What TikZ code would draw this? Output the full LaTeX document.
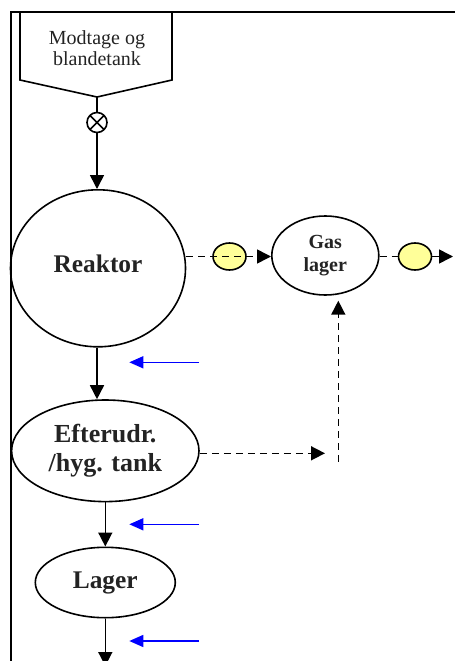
\documentclass[tikz,border=0pt]{standalone}
\usepackage{fontspec}
\setmainfont{Liberation Serif}
\usetikzlibrary{arrows.meta,shapes.geometric,calc}
\definecolor{txtgray}{RGB}{35,35,35}
\definecolor{lightyel}{RGB}{255,255,153}
\begin{document}
\begin{tikzpicture}[x=1pt,y=-1pt,
  arr/.style={line width=1.6pt,-{Triangle[length=14pt,width=14pt]}},
  dasharr/.style={line width=1.6pt,dash pattern=on 7pt off 5pt,-{Triangle[length=14pt,width=14pt]}},
  bluearr/.style={line width=1.5pt,draw=blue,-{Triangle[length=14pt,width=12pt]},blue},
  tank/.style={ellipse,draw,line width=1.6pt,inner sep=0pt,text=txtgray,align=center},
  yel/.style={ellipse,draw,line width=1.6pt,fill=lightyel,inner sep=0pt,minimum width=33pt,minimum height=27pt},
  valve/.style={circle,draw,line width=1.6pt,inner sep=0pt,minimum size=20pt,
    path picture={\draw[line width=1.6pt] (path picture bounding box.north west) -- (path picture bounding box.south east)
      (path picture bounding box.north east) -- (path picture bounding box.south west);}}
]
\useasboundingbox (0,0) rectangle (455,661);
% frame
\draw[line width=2.2pt] (11,661) -- (11,12) -- (455,12);
% receiving tank
\draw[line width=1.6pt] (20,12) -- (20,80) -- (97,97) -- (172,80) -- (172,12);
\coordinate (mb) at (97,97);
\node[text=txtgray,align=center,font=\fontsize{20}{21.5}\selectfont] (mt) at (97,48) {Modtage og\\blandetank};
\node[valve] (v) at (97,122.5) {};
% main nodes
\node[tank,minimum width=175pt,minimum height=157pt,font=\bfseries\fontsize{25.4}{29}\selectfont,text depth=10pt] (R) at (98,268.3) {Reaktor};
\node[tank,minimum width=107pt,minimum height=79pt,font=\bfseries\fontsize{20}{23.3}\selectfont] (G) at (325.3,255.5) {Gas\\lager};
\node[tank,minimum width=187.4pt,minimum height=101.6pt,font=\bfseries\fontsize{26}{29.4}\selectfont] (E) at (105.3,450.8) {Efterudr.\\/hyg. tank};
\node[tank,minimum width=140pt,minimum height=70.4pt,font=\bfseries\fontsize{25.4}{29}\selectfont] (L) at (105.3,582.5) {Lager};
\node[yel] (Y1) at (229.5,256.5) {};
\node[yel] (Y2) at (415,256.5) {};
% coordinates
\coordinate (gout) at (453,256.5);
\coordinate (c1) at (338.3,461.7);
\coordinate (c2) at (338.3,300.7);
\coordinate (c3) at (325,453.3);
\coordinate (c4) at (105.3,666);
\coordinate (b1s) at (199,362.3);
\coordinate (b1e) at (129.3,362.3);
\coordinate (b2s) at (199,524.3);
\coordinate (b2e) at (129.3,524.3);
\coordinate (b3s) at (199,641);
\coordinate (b3e) at (129.3,641);
% connectors
\draw[line width=1.6pt] (mb) -- (v.north);
\draw[arr] (v.south) -- (v.south |- R.north);
\draw[dasharr] (Y1 -| R.east) -- (Y1 -| G.west);
\draw[line width=1.6pt,dash pattern=on 7pt off 5pt] (Y2 -| G.east) -- (Y2.west);
\draw[arr] (Y2.east) -- (gout);
\draw[arr] (R.south -| v.south) -- (v.south |- E.north);
\draw[dasharr] (c1) -- (c2);
\draw[dasharr] (c3 -| E.east) -- (c3);
\draw[arr] (E.south) -- (L.north);
\draw[arr] (L.south) -- (c4);
\draw[bluearr] (b1s) -- (b1e);
\draw[bluearr] (b2s) -- (b2e);
\draw[bluearr] (b3s) -- (b3e);
\end{tikzpicture}
\end{document}
